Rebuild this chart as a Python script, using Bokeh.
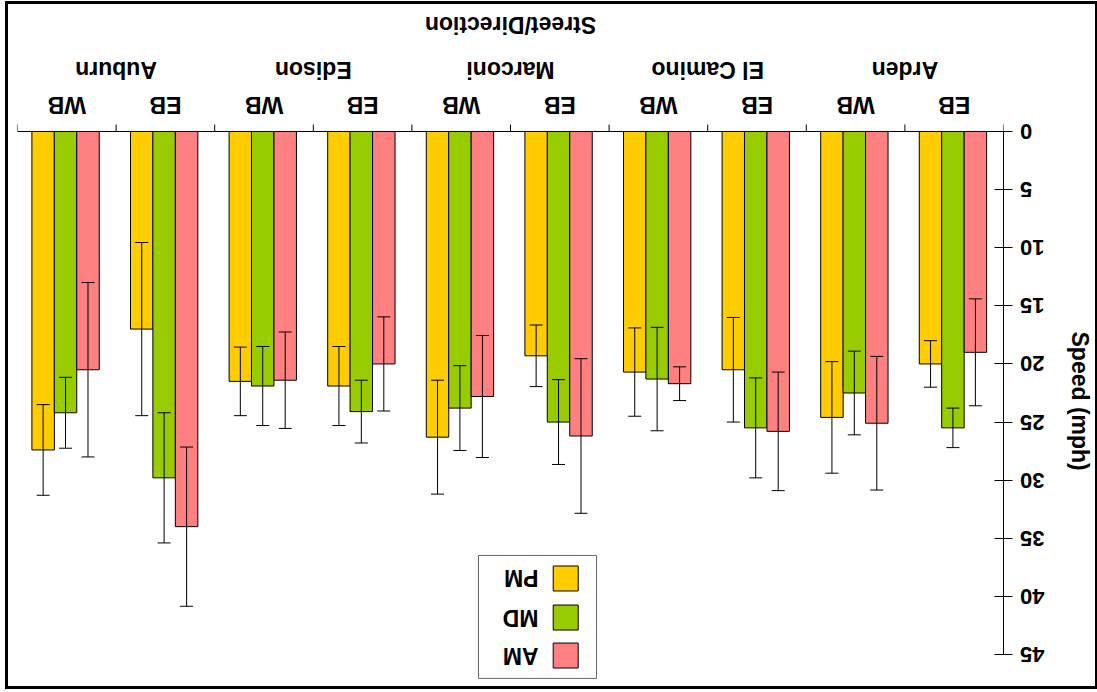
import math
from bokeh.plotting import figure
from bokeh.models import (FactorRange, Range1d, LinearAxis, SingleIntervalTicker, FixedTicker,
                          ColumnDataSource, Whisker, TeeHead, Span)
from bokeh.transform import dodge
from bokeh.embed import file_html
from bokeh.resources import INLINE
from bokeh.core.properties import value

FONT = "Liberation Sans"

streets = ["Arden", "El Camino", "Marconi", "Edison", "Auburn"]
directions = ["EB", "WB"]
periods = ["AM", "MD", "PM"]
# order: Arden EB, Arden WB, El Camino EB, El Camino WB, Marconi EB, Marconi WB,
#        Edison EB, Edison WB, Auburn EB, Auburn WB
am_speed = [19.0, 25.1, 25.8, 21.7, 26.2, 22.8, 20.0, 21.4, 34.0, 20.5]
am_err = [4.6, 5.75, 5.1, 1.45, 6.65, 5.25, 4.05, 4.15, 6.85, 7.5]
md_speed = [25.5, 22.5, 25.5, 21.3, 25.0, 23.8, 24.1, 21.9, 29.8, 24.2]
md_err = [1.7, 3.6, 4.3, 4.45, 3.65, 3.65, 2.7, 3.4, 5.6, 3.05]
pm_speed = [20.0, 24.6, 20.5, 20.7, 19.3, 26.3, 21.9, 21.5, 17.0, 27.4]
pm_err = [2.0, 4.8, 4.5, 3.8, 2.65, 4.9, 3.4, 2.95, 7.45, 3.9]
colors = {"AM": "#FF8080", "MD": "#99CC00", "PM": "#FFCC00"}
y_ticks_step = 5
y_max = 45
x_title = "Street/Direction"
y_title = "Speed (mph)"
y_title_at = 23.2

x_factors = [(s, d) for s in streets for d in directions]
n_slots = len(x_factors)

data = dict(x=x_factors, dlabel=[d for _, d in x_factors])
for key, sp, er in [("am", am_speed, am_err), ("md", md_speed, md_err), ("pm", pm_speed, pm_err)]:
    data[key] = sp
    data[key + "_lo"] = [a - b for a, b in zip(sp, er)]
    data[key + "_hi"] = [a + b for a, b in zip(sp, er)]
src = ColumnDataSource(data)

# the chart is shown rotated by 180 degrees; the header area (above zero) lies in the frame
PX = 523.0 / y_max          # pixels per mph
Y_TOP = -127.0 / PX
Y_BOTTOM = 553.0 / PX
x_range = FactorRange(*x_factors[::-1], factor_padding=0, group_padding=0,
                      subgroup_padding=0, range_padding=0)
p = figure(x_range=x_range, y_range=Range1d(start=Y_BOTTOM, end=Y_TOP),
           frame_width=986, frame_height=680, output_backend="svg", toolbar_location=None,
           x_axis_location=None, y_axis_location=None,
           min_border_left=9, min_border_right=87, min_border_top=0, min_border_bottom=2,
           styles={"border": "3px solid black", "margin": "1px 0 0 5px",
                   "box-sizing": "content-box"})
p.xgrid.visible = False
p.ygrid.visible = False
p.outline_line_color = None

# category axis: line, slot-boundary ticks, labels
p.add_layout(Span(location=0, dimension="width", line_color="black", line_width=1))
bounds = list(range(n_slots + 1))
p.segment(x0=bounds, y0=[0] * len(bounds), x1=bounds, y1=[-7.0 / PX] * len(bounds),
          line_color="black", line_width=1)
p.text(x="x", y=-26.5 / PX, text="dlabel", source=src, angle=math.pi,
       text_align="center", text_baseline="middle", text_font=value(FONT),
       text_font_style="bold", text_font_size="23px", text_color="black")
p.text(x=streets, y=[-62.0 / PX] * len(streets), text=streets, angle=math.pi,
       text_align="center", text_baseline="middle", text_font=value(FONT),
       text_font_style="bold", text_font_size="23px", text_color="black")
p.text(x=[n_slots / 2], y=[-106.5 / PX], text=[x_title], angle=math.pi,
       text_align="center", text_baseline="middle", text_font=value(FONT),
       text_font_style="bold", text_font_size="23px", text_color="black")

# value axis (right side); one-digit labels padded with a figure space so that
# the upside-down labels line up next to the axis
overrides = {}
for t in range(0, y_max + 1, y_ticks_step):
    if t < 10:
        overrides[t] = "\u2007" + str(t)
yax = LinearAxis(ticker=SingleIntervalTicker(interval=y_ticks_step, num_minor_ticks=0),
                 bounds=(0, y_max), major_tick_out=9, major_tick_in=9,
                 minor_tick_out=0, minor_tick_in=0,
                 major_label_overrides=overrides,
                 major_label_orientation=math.pi, major_label_standoff=32,
                 major_label_text_font=FONT, major_label_text_font_style="bold",
                 major_label_text_font_size="22px", major_label_text_color="black",
                 axis_line_color="black", major_tick_line_color="black")
p.add_layout(yax, "right")

ytitle_axis = LinearAxis(ticker=FixedTicker(ticks=[y_title_at]),
                         major_label_overrides={y_title_at: y_title},
                         axis_line_color=None, major_tick_line_color=None,
                         minor_tick_line_color=None, major_tick_out=0, major_tick_in=0,
                         major_label_orientation="parallel", major_label_standoff=-5,
                         major_label_text_font=FONT, major_label_text_font_style="bold",
                         major_label_text_font_size="23px", major_label_text_color="black")
p.add_layout(ytitle_axis, "right")

offsets = {"PM": -0.24, "MD": -0.013, "AM": 0.215}
for per in ["PM", "MD", "AM"]:
    key = per.lower()
    xx = dodge("x", offsets[per], range=p.x_range)
    p.vbar(x=xx, top=key, bottom=0, width=0.228, source=src,
           fill_color=colors[per], line_color="black", line_width=1)
    p.add_layout(Whisker(base=xx, upper=key + "_hi", lower=key + "_lo", source=src,
                         line_color="black", line_width=1, level="overlay",
                         upper_head=TeeHead(size=13, line_color="black", line_width=1),
                         lower_head=TeeHead(size=13, line_color="black", line_width=1)))

# legend (drawn manually, rotated)
leg_labels = ["PM", "MD", "AM"]
leg_y = [38.46, 41.82, 45.09]
p.rect(x=[5.274], y=[41.77], width=1.197, height=10.58,
       fill_color=None, line_color="#666666", line_width=1)
p.scatter(x=[5.56] * 3, y=leg_y, marker="square", size=25,
          fill_color=[colors[l] for l in leg_labels], line_color="black", line_width=1)
p.text(x=[5.284] * 3, y=leg_y, text=leg_labels, angle=math.pi,
       text_align="left", text_baseline="middle", text_font=value(FONT),
       text_font_style="bold", text_font_size="23px", text_color="black")

open("out.html", "w").write(file_html(p, INLINE))
